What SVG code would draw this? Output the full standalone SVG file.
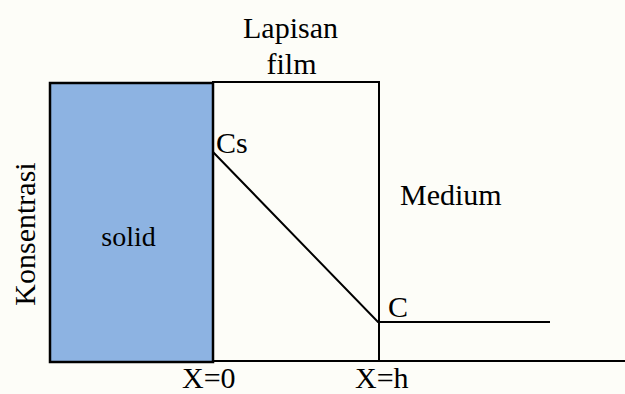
<svg xmlns="http://www.w3.org/2000/svg" width="625" height="394" viewBox="0 0 625 394">
<style>
.t{font-family:"Liberation Serif","Times New Roman",serif;font-size:30px;fill:#000}
.ln{stroke:#000;stroke-width:2;fill:none}
</style>
<rect width="625" height="394" fill="#fdfdf8"/>
<g id="solid">
<rect x="50" y="83" width="163" height="279" fill="#8db3e2" stroke="#000" stroke-width="2.5"/>
<text class="t" x="128.5" y="246" text-anchor="middle" font-size="28" style="font-size:28px">solid</text>
</g>
<g id="film">
<rect class="ln" x="213" y="82" width="166" height="279"/>
<text class="t" x="290.5" y="38" text-anchor="middle">Lapisan</text>
<text class="t" x="291.5" y="74" text-anchor="middle">film</text>
</g>
<g id="connectors">
<line class="ln" x1="213" y1="361" x2="625" y2="361"/>
<polyline class="ln" points="213,152 378,322 550,322"/>
</g>
<g id="labels">
<text class="t" x="216" y="153">Cs</text>
<text class="t" x="388" y="317">C</text>
<text class="t" x="400" y="205">Medium</text>
<text class="t" x="182" y="388">X=0</text>
<text class="t" x="355" y="388">X=h</text>
<text class="t" transform="translate(35,234) rotate(-90)" text-anchor="middle">Konsentrasi</text>
</g>
</svg>
